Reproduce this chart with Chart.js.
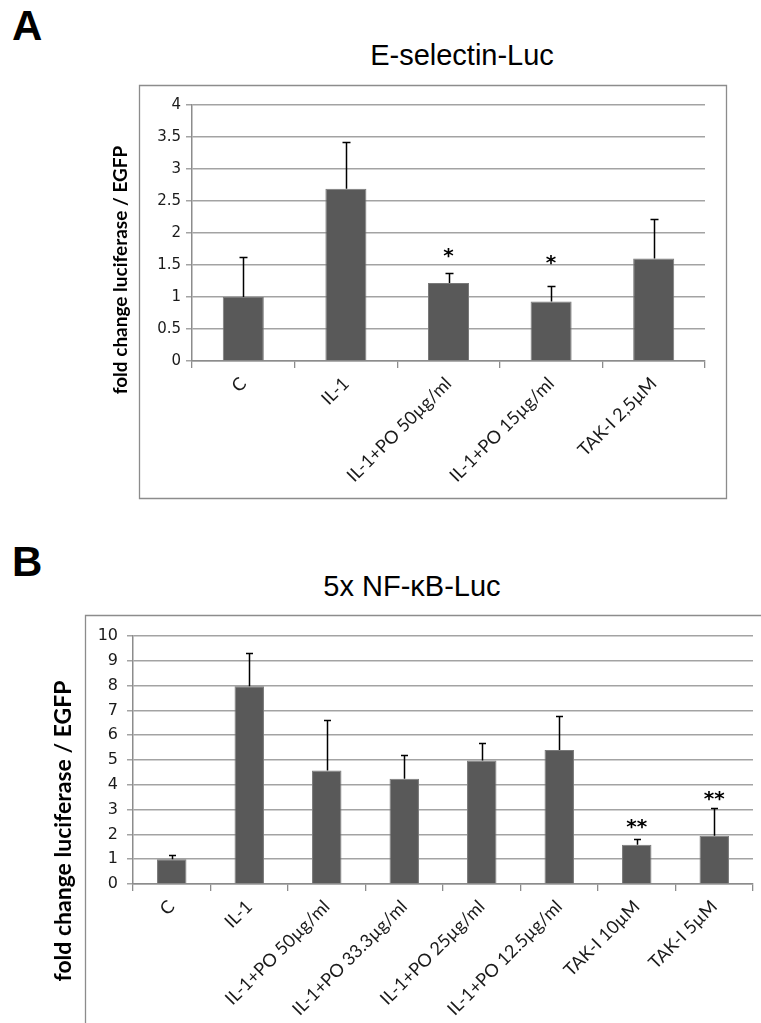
<!DOCTYPE html>
<html><head><meta charset="utf-8">
<script src="https://cdn.jsdelivr.net/npm/chart.js@4.4.0/dist/chart.umd.min.js"></script>
<style>
html,body{margin:0;padding:0;background:#fff;}
#page{position:relative;width:761px;height:1023px;overflow:hidden;background:#fff;}
.lbl{position:absolute;font-family:"Liberation Sans",Arial,sans-serif;color:#000;white-space:nowrap;line-height:1;}
.wrap{position:absolute;}
</style></head><body>
<div id="page">
  <div class="lbl" style="left:12px;top:5px;font-size:42px;font-weight:bold">A</div>
  <div class="lbl" style="left:462px;top:41px;font-size:29px;transform:translateX(-50%)">E-selectin-Luc</div>
  <div class="lbl" style="left:12px;top:541px;font-size:42px;font-weight:bold">B</div>
  <div class="lbl" style="left:412px;top:572px;font-size:29px;transform:translateX(-50%)">5x NF-κB-Luc</div>
  <div class="wrap" style="left:90px;top:80px;width:650px;height:425px"><canvas id="cA" width="650" height="425"></canvas></div>
  <div class="wrap" style="left:40px;top:605px;width:721px;height:418px"><canvas id="cB" width="721" height="418"></canvas></div>
</div>
<script>
// ---------- Panel A data ----------
const catsA  = ['C', 'IL-1', 'IL-1+PO 50µg/ml', 'IL-1+PO 15µg/ml', 'TAK-I 2,5µM'];
const meanA  = [1.00, 2.69, 1.22, 0.93, 1.60];
const errA   = [0.62, 0.73, 0.16, 0.24, 0.62];
const starA  = ['', '', '*', '*', ''];
const starYA = [null, null, 1.73, 1.62, null];
const ticksA = [0, 0.5, 1, 1.5, 2, 2.5, 3, 3.5, 4];

// ---------- Panel B data ----------
const catsB  = ['C', 'IL-1', 'IL-1+PO 50µg/ml', 'IL-1+PO 33.3µg/ml', 'IL-1+PO 25µg/ml', 'IL-1+PO 12.5µg/ml', 'TAK-I 10µM', 'TAK-I 5µM'];
const meanB  = [1.00, 7.97, 4.58, 4.24, 4.98, 5.40, 1.58, 1.95];
const errB   = [0.15, 1.35, 2.02, 0.97, 0.69, 1.37, 0.22, 1.11];
const starB  = ['', '', '', '', '', '', '**', '**'];
const starYB = [null, null, null, null, null, null, 2.55, 3.65];
const ticksB = [0, 1, 2, 3, 4, 5, 6, 7, 8, 9, 10];

const yTitle = 'fold change luciferase / EGFP';

const extras = {
  id: 'extras',
  beforeDraw(chart, args, o) {
    const ctx = chart.ctx;
    ctx.save();
    ctx.strokeStyle = '#8c8c8c';
    ctx.lineWidth = 1.3;
    ctx.beginPath();
    if (o.box.full) {
      ctx.rect(o.box.x, o.box.y, o.box.w, o.box.h);
    } else {
      ctx.moveTo(o.box.x, chart.height + 5);
      ctx.lineTo(o.box.x, o.box.y);
      ctx.lineTo(chart.width + 5, o.box.y);
    }
    ctx.stroke();
    // y-axis title
    ctx.translate(o.title.x, o.title.y);
    ctx.rotate(-Math.PI / 2);
    ctx.fillStyle = '#000';
    ctx.font = 'bold ' + o.title.size + 'px Lato, "Open Sans", sans-serif';
    ctx.textAlign = 'center';
    ctx.textBaseline = 'middle';
    ctx.fillText(yTitle, 0, 0);
    ctx.restore();
  },
  afterDatasetsDraw(chart, args, o) {
    const ctx = chart.ctx;
    const y = chart.scales.y;
    const meta = chart.getDatasetMeta(0);
    ctx.save();
    ctx.strokeStyle = '#000';
    ctx.lineWidth = 1.5;
    o.mean.forEach((m, i) => {
      const px = Math.round(meta.data[i].x) + 0.5;
      const y0 = y.getPixelForValue(m);
      const y1 = Math.round(y.getPixelForValue(m + o.err[i])) + 0.5;
      ctx.beginPath();
      ctx.moveTo(px, y0);
      ctx.lineTo(px, y1);
      ctx.moveTo(px - o.cap / 2, y1);
      ctx.lineTo(px + o.cap / 2, y1);
      ctx.stroke();
    });
    ctx.fillStyle = '#000';
    ctx.font = 'bold ' + o.starSize + 'px "DejaVu Sans", sans-serif';
    ctx.textAlign = 'center';
    ctx.textBaseline = 'alphabetic';
    o.stars.forEach((s, i) => {
      if (!s) return;
      const px = meta.data[i].x;
      const py = y.getPixelForValue(o.starY[i]);
      ctx.fillText(s, px, py + o.starSize * 0.6);
    });
    ctx.restore();
  }
};

function makeChart(id, cats, mean, err, stars, starY, ticks, cfg) {
  return new Chart(document.getElementById(id), {
    type: 'bar',
    data: {
      labels: cats,
      datasets: [{
        data: mean,
        backgroundColor: '#595959',
        borderColor: '#7a7a7a',
        borderWidth: 1,
        categoryPercentage: 1,
        barPercentage: cfg.barPct
      }]
    },
    options: {
      responsive: false,
      animation: false,
      events: [],
      layout: { padding: { left: 0, top: cfg.padTop, right: cfg.padRight, bottom: 0 } },
      plugins: {
        legend: { display: false },
        tooltip: { enabled: false },
        title: { display: false },
        extras: { mean: mean, err: err, stars: stars, starY: starY, cap: cfg.cap, starSize: cfg.starSize, box: cfg.box, title: cfg.title }
      },
      scales: {
        x: {
          offset: true,
          grid: { offset: true, drawOnChartArea: false, drawTicks: true, tickLength: 7, color: '#8c8c8c', lineWidth: 1.3 },
          border: { display: true, color: '#8c8c8c', width: 1.5 },
          ticks: { minRotation: 45, maxRotation: 45, autoSkip: false, color: '#1a1a1a', padding: cfg.xPad,
                   font: { family: 'Lato, "Open Sans", sans-serif', size: cfg.xFont } },
          afterFit(s) { s.height = cfg.xH; }
        },
        y: {
          min: ticks[0], max: ticks[ticks.length - 1],
          afterBuildTicks(s) { s.ticks = ticks.map(v => ({ value: v })); },
          grid: { color: '#a3a3a3', lineWidth: 1.5, tickLength: 6, drawTicks: true },
          border: { display: true, color: '#8c8c8c', width: 1.5 },
          ticks: { color: '#1a1a1a', padding: cfg.yPad, callback: v => String(v),
                   font: { family: '"DejaVu Sans", Verdana, sans-serif', size: cfg.yFont } },
          afterFit(s) { s.width = cfg.yW; }
        }
      }
    },
    plugins: [extras]
  });
}

makeChart('cA', catsA, meanA, errA, starA, starYA, ticksA, {
  barPct: 0.4, padTop: 25, padRight: 35, xH: 144, yW: 102, cap: 8, starSize: 20,
  xFont: 18, xPad: 5, yFont: 15, yPad: 5,
  box: { full: true, x: 49.5, y: 5.5, w: 587, h: 413 },
  title: { x: 31, y: 190, size: 19 }
});

makeChart('cB', catsB, meanB, errB, starB, starYB, ticksB, {
  barPct: 0.38, padTop: 31, padRight: 8, xH: 139, yW: 93, cap: 7, starSize: 20,
  xFont: 18, xPad: 5, yFont: 16, yPad: 9,
  box: { full: false, x: 45.5, y: 10.5 },
  title: { x: 24, y: 226, size: 23 }
});
</script>
</body></html>
